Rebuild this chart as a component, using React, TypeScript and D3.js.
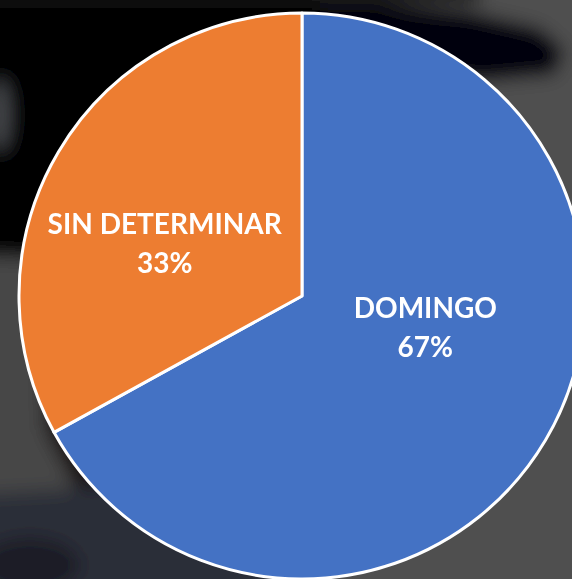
import React, { useRef, useEffect } from 'react';
import * as d3 from 'd3';

const categories = ['DOMINGO', 'SIN DETERMINAR'];
const values = [67, 33];
const colors = ['#4472C4', '#ED7D31'];

const width = 572;
const height = 579;

const App: React.FC = () => {
  const svgRef = useRef<SVGSVGElement>(null);

  useEffect(() => {
    if (!svgRef.current) return;
    const root = d3.select(svgRef.current);
    root.selectAll('*').remove();
    root.attr('width', width).attr('height', height);

    // blurred photo-like backdrop
    const defs = root.append('defs');
    defs
      .append('filter')
      .attr('id', 'blur')
      .attr('x', '-20%')
      .attr('y', '-20%')
      .attr('width', '140%')
      .attr('height', '140%')
      .append('feGaussianBlur')
      .attr('stdDeviation', 9);

    const bg = root.append('g').attr('filter', 'url(#blur)');
    bg.append('rect').attr('x', -40).attr('y', -40).attr('width', width + 80).attr('height', height + 80).attr('fill', '#505050');
    bg.append('rect').attr('x', -40).attr('y', -40).attr('width', 520).attr('height', 44).attr('fill', '#1a1a1c');
    bg.append('path').attr('d', 'M-40,4 L380,4 L470,12 L540,28 L565,50 L555,75 L480,82 L400,70 L320,60 L220,80 L120,170 L60,260 L-40,262 Z').attr('fill', '#060607');
    bg.append('rect').attr('x', -40).attr('y', 0).attr('width', 360).attr('height', 260).attr('fill', '#050506');
    bg.append('ellipse').attr('cx', 0).attr('cy', 115).attr('rx', 9).attr('ry', 36).attr('fill', '#484c50');
    bg.append('path').attr('d', 'M-40,255 L35,258 L28,330 L50,420 L100,495 L-40,495 Z').attr('fill', '#474747');
    bg.append('path').attr('d', 'M38,290 L62,300 L70,420 L130,495 L85,505 L45,430 Z').attr('fill', '#141110');
    bg.append('path').attr('d', 'M-40,495 L60,490 L150,480 L260,540 L300,620 L-40,620 Z').attr('fill', '#2b2d39');
    bg.append('ellipse').attr('cx', 30).attr('cy', 565).attr('rx', 50).attr('ry', 28).attr('fill', '#1c1e28');

    const cx = 302;
    const cy = 296;
    const r = 283;

    const g = root.append('g').attr('transform', `translate(${cx},${cy})`);

    const pie = d3.pie<number>().sort(null).value((d) => d);
    const arcs = pie(values);
    const arc = d3.arc<d3.PieArcDatum<number>>().innerRadius(0).outerRadius(r);

    g.selectAll('path.slice')
      .data(arcs)
      .enter()
      .append('path')
      .attr('class', 'slice')
      .attr('d', arc)
      .attr('fill', (_, i) => colors[i])
      .attr('stroke', '#ffffff')
      .attr('stroke-width', 3)
      .attr('stroke-linejoin', 'round');

    const total = d3.sum(values);
    const labelArc = d3.arc<d3.PieArcDatum<number>>().innerRadius(r * 0.5).outerRadius(r * 0.5);

    const labels = g
      .selectAll('g.label')
      .data(arcs)
      .enter()
      .append('g')
      .attr('class', 'label')
      .attr('transform', (d) => {
        const [x, y] = labelArc.centroid(d);
        return `translate(${x * 1.07 - 7},${y * 0.58})`;
      })
      .attr('font-family', 'Lato, "Open Sans", sans-serif')
      .attr('font-weight', 700)
      .attr('font-size', 28)
      .attr('fill', '#ffffff')
      .attr('text-anchor', 'middle');

    labels
      .append('text')
      .attr('y', -20)
      .text((_, i) => categories[i]);

    labels
      .append('text')
      .attr('y', 19)
      .text((d) => `${Math.round((d.data / total) * 100)}%`);
  }, []);

  return (
    <div style={{ position: 'fixed', left: 0, top: 0, width, height, overflow: 'hidden' }}>
      <svg ref={svgRef} style={{ display: 'block' }}></svg>
    </div>
  );
};

export default App;
